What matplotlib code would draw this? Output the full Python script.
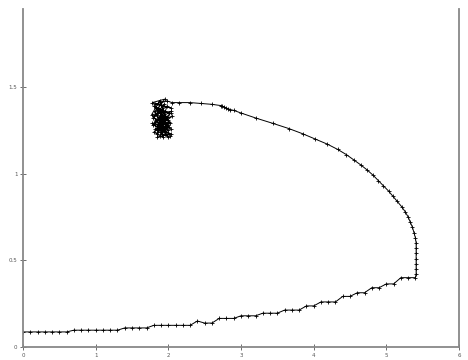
import matplotlib
matplotlib.use("Agg")
import matplotlib.pyplot as plt

# lower staircase branch
low_x = [0.0, 0.1, 0.2, 0.3, 0.4, 0.5, 0.6, 0.7, 0.8, 0.9, 1.0, 1.1, 1.2, 1.3,
         1.4, 1.5, 1.6, 1.7, 1.8, 1.9, 2.0, 2.1, 2.2, 2.3, 2.4, 2.5, 2.6, 2.7,
         2.8, 2.9, 3.0, 3.1, 3.2, 3.3, 3.4, 3.5, 3.6, 3.7, 3.8, 3.9, 4.0, 4.1,
         4.2, 4.3, 4.4, 4.5, 4.6, 4.7, 4.8, 4.9, 5.0, 5.1, 5.2, 5.3, 5.4]
low_y = [0.087, 0.087, 0.087, 0.087, 0.087, 0.087, 0.087, 0.097, 0.097, 0.097,
         0.097, 0.097, 0.097, 0.097, 0.110, 0.110, 0.110, 0.110, 0.125, 0.125,
         0.125, 0.125, 0.125, 0.125, 0.150, 0.138, 0.138, 0.165, 0.165, 0.165,
         0.180, 0.180, 0.180, 0.195, 0.195, 0.195, 0.213, 0.213, 0.213, 0.237,
         0.237, 0.260, 0.260, 0.260, 0.292, 0.292, 0.313, 0.313, 0.342, 0.342,
         0.364, 0.364, 0.400, 0.400, 0.400]

# rising and returning branch
up_x = [5.41, 5.41, 5.41, 5.41, 5.41, 5.41, 5.41, 5.40, 5.38, 5.36, 5.33, 5.30,
        5.26, 5.21, 5.15, 5.09, 5.03, 4.96, 4.89, 4.82, 4.74, 4.65, 4.55, 4.45,
        4.33, 4.19, 4.02, 3.85, 3.66, 3.44, 3.21, 3.00, 2.90, 2.85, 2.82, 2.79,
        2.77, 2.74, 2.72, 2.60, 2.45, 2.30, 2.15, 2.05]
up_y = [0.42, 0.45, 0.48, 0.51, 0.54, 0.57, 0.60, 0.63, 0.66, 0.69, 0.72, 0.75,
        0.78, 0.81, 0.84, 0.87, 0.90, 0.93, 0.96, 0.99, 1.02, 1.05, 1.08, 1.11,
        1.14, 1.17, 1.20, 1.23, 1.26, 1.29, 1.32, 1.35, 1.365, 1.37, 1.375, 1.38,
        1.385, 1.39, 1.393, 1.40, 1.405, 1.41, 1.41, 1.41]

# dense cluster at the end
cl_x = [1.98, 1.82, 2.03, 1.78, 1.95, 1.85, 2.01, 1.80, 1.92, 2.04, 1.77, 1.88,
        1.99, 1.83, 2.02, 1.79, 1.94, 1.86, 2.05, 1.81, 1.90, 2.00, 1.84, 1.96,
        1.78, 2.03, 1.87, 1.93, 1.80, 2.01, 1.89, 1.97, 1.82, 2.04, 1.85, 1.91,
        1.79, 1.99, 1.86, 2.02, 1.83, 1.95, 1.88, 2.00, 1.81, 1.93, 1.90, 1.97,
        1.84, 2.03, 1.87, 1.80, 1.98, 1.92, 1.85, 2.01]
cl_y = [1.42, 1.40, 1.38, 1.41, 1.43, 1.37, 1.35, 1.39, 1.33, 1.36, 1.34, 1.42,
        1.31, 1.38, 1.29, 1.32, 1.40, 1.27, 1.33, 1.30, 1.25, 1.28, 1.35, 1.23,
        1.29, 1.26, 1.32, 1.21, 1.24, 1.30, 1.22, 1.27, 1.26, 1.23, 1.21, 1.34,
        1.28, 1.25, 1.38, 1.22, 1.31, 1.29, 1.24, 1.21, 1.36, 1.26, 1.37, 1.32,
        1.23, 1.35, 1.28, 1.33, 1.39, 1.30, 1.25, 1.27]

xs = low_x + up_x + cl_x
ys = low_y + up_y + cl_y

x_ticks = [0, 1, 2, 3, 4, 5, 6]
x_labels = ["0", "1", "2", "3", "4", "5", "6"]
y_ticks = [0, 0.5, 1, 1.5]
y_labels = ["0", "0.5", "1", "1.5"]

fig = plt.figure(figsize=(4.68, 3.6), dpi=100)
ax = fig.add_axes([23 / 468, 13 / 360, 436 / 468, 338 / 360])
ax.plot(xs, ys, color="black", linewidth=0.7, marker="+", markersize=3,
        markeredgewidth=0.6)
ax.set_xlim(0, 6)
ax.set_ylim(0, 1.95)
ax.set_xticks(x_ticks)
ax.set_xticklabels(x_labels)
ax.set_yticks(y_ticks)
ax.set_yticklabels(y_labels)
ax.tick_params(direction="inout", length=4, width=0.6, labelsize=4,
               colors="#555555", pad=2)
ax.spines["top"].set_visible(False)
for s in ["left", "right", "bottom"]:
    ax.spines[s].set_color("#888888")
    ax.spines[s].set_linewidth(1.3)

fig.savefig("out.png", dpi=100)
